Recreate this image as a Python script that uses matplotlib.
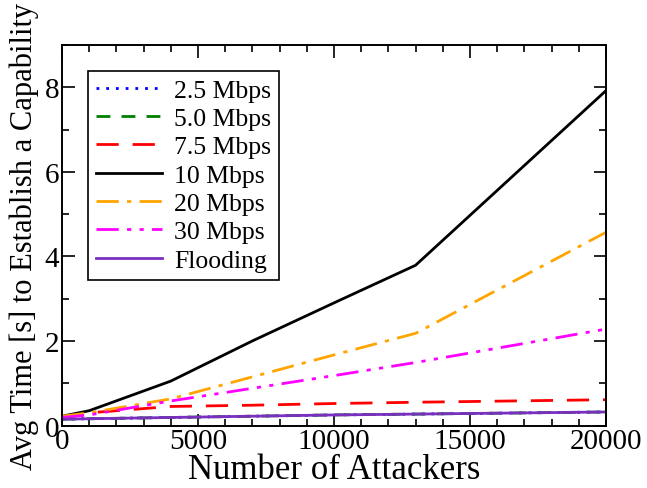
import numpy as np
import matplotlib.pyplot as plt
from matplotlib.ticker import MultipleLocator

plt.rcParams['font.family'] = ['Liberation Serif', 'DejaVu Serif']

# number of attackers
attackers = [0, 1000, 4000, 7000, 10000, 13000, 20000]

# avg time [s] to establish a capability
t_2_5 = [0.15, 0.16, 0.19, 0.22, 0.25, 0.27, 0.32]
t_5_0 = [0.15, 0.16, 0.19, 0.22, 0.25, 0.27, 0.32]
t_7_5 = [0.20, 0.30, 0.45, 0.48, 0.52, 0.55, 0.61]
t_10 = [0.22, 0.35, 1.05, 2.00, 2.90, 3.79, 7.92]
t_20 = [0.22, 0.30, 0.63, 1.15, 1.67, 2.18, 4.57]
t_30 = [0.19, 0.25, 0.58, 0.88, 1.18, 1.49, 2.28]
t_flood = [0.15, 0.16, 0.19, 0.22, 0.25, 0.27, 0.32]

labels = ['2.5 Mbps', '5.0 Mbps', '7.5 Mbps', '10 Mbps', '20 Mbps', '30 Mbps', 'Flooding']
colors = ['blue', 'green', 'red', 'black', 'orange', 'magenta', '#7b2fbe']
styles = [(0, (1, 2.5)), (0, (5, 4)), (0, (8, 5)), '-', (0, (8, 3, 1.5, 3)),
          (0, (8, 3, 1.5, 3, 1.5, 3)), '-']
series = [t_2_5, t_5_0, t_7_5, t_10, t_20, t_30, t_flood]

fig = plt.figure(figsize=(6.47, 4.89), dpi=100)
ax = fig.add_axes([0.0958, 0.1278, 0.8408, 0.7782])

for y, lab, c, ls in zip(series, labels, colors, styles):
    ax.plot(attackers, y, color=c, linestyle=ls, linewidth=2, label=lab)

ax.set_xlim(0, 20000)
ax.set_ylim(0, 9)
ax.xaxis.set_major_locator(MultipleLocator(5000))
ax.xaxis.set_minor_locator(MultipleLocator(1000))
ax.yaxis.set_major_locator(MultipleLocator(2))
ax.yaxis.set_minor_locator(MultipleLocator(1))
ax.tick_params(which='both', direction='in', top=True, right=True, labelsize=21, width=1.2)
ax.tick_params(which='major', length=9, pad=2)
ax.tick_params(which='minor', length=5)
for s in ax.spines.values():
    s.set_linewidth(1.4)

ax.set_xlabel('Number of Attackers', fontsize=25, labelpad=-1)
ax.set_ylabel('Avg Time [s] to Establish a Capability', fontsize=22, labelpad=4)

leg = ax.legend(loc='upper left', bbox_to_anchor=(0.0478, 0.932), borderaxespad=0,
                fontsize=18.5, handlelength=2.6, handletextpad=0.44, borderpad=0.3,
                labelspacing=0.21, fancybox=False, framealpha=1, edgecolor='black')
leg.get_frame().set_linewidth(1.2)

fig.savefig('out.png', dpi=100)
